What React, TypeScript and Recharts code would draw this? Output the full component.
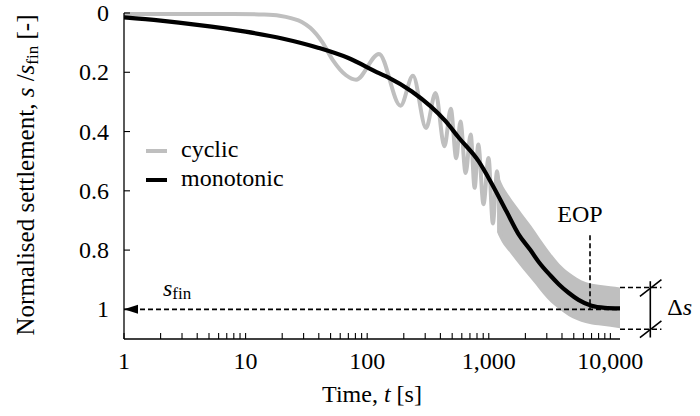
import {
  ComposedChart,
  Line,
  Area,
  XAxis,
  YAxis,
  ReferenceLine,
  ReferenceDot,
  Legend,
} from 'recharts';

const SERIF = 'Liberation Serif';
const GREY = '#bfbfbf';

// monotonic loading, time [s] vs s/s_fin
const monoTime = [1, 2, 4, 10, 20, 40, 70, 125, 150, 233, 443, 565, 824, 1055, 1400, 1750, 2200, 2575, 3200, 3760, 4530, 5470, 7000, 9000, 12000];
const monoSettle = [0.015, 0.026, 0.04, 0.063, 0.086, 0.118, 0.152, 0.203, 0.218, 0.265, 0.366, 0.42, 0.5, 0.575, 0.67, 0.745, 0.8, 0.84, 0.885, 0.915, 0.944, 0.968, 0.988, 0.995, 0.997];

const cyclicTime = [1, 8, 14, 19, 24, 29, 34, 43, 52, 67, 81, 125, 188, 238, 305, 365, 432, 487, 540, 585, 645, 710, 765, 820, 905, 995, 1080, 1170, 1250];
const cyclicSettle = [0.003, 0.003, 0.005, 0.009, 0.018, 0.03, 0.05, 0.1, 0.158, 0.21, 0.225, 0.138, 0.313, 0.212, 0.388, 0.27, 0.45, 0.323, 0.49, 0.366, 0.54, 0.41, 0.59, 0.444, 0.645, 0.489, 0.71, 0.534, 0.75];

// cyclic band where the cycles are too dense to separate
const bandTime = [1170, 1270, 1500, 1750, 2050, 2420, 2800, 3250, 3800, 4530, 5300, 6250, 8000, 10000, 12000];
const bandUpper = [0.534, 0.572, 0.622, 0.66, 0.698, 0.738, 0.776, 0.812, 0.846, 0.874, 0.893, 0.908, 0.917, 0.922, 0.926];
const bandLower = [0.74, 0.77, 0.81, 0.845, 0.88, 0.915, 0.948, 0.977, 1.0, 1.022, 1.036, 1.046, 1.054, 1.059, 1.064];

const xTicks = [1, 10, 100, 1000].flatMap((d) => [1, 2, 3, 4, 5, 6, 7, 8, 9].map((m) => m * d)).concat(10000);
const xTickLabels: Record<number, string> = { 1: '1', 10: '10', 100: '100', 1000: '1,000', 10000: '10,000' };
const yTicks = [0, 0.2, 0.4, 0.6, 0.8, 1];
const yTickLabels = ['0', '0.2', '0.4', '0.6', '0.8', '1'];

// annotations
const EOP_TIME = 6800;
const EOP_TOP = 0.75;
const DS_UPPER = 0.926;
const DS_LOWER = 1.067;
const DS_TIME = 21300;
const DS_END = 26300;
const DS_SLASH_START = 17500;

const legendItems = [
  { name: 'cyclic', color: GREY },
  { name: 'monotonic', color: '#000' },
];

const monoData = monoTime.map((t, i) => ({ t, s: monoSettle[i] }));
const cyclicData = cyclicTime.map((t, i) => ({ t, s: cyclicSettle[i] }));
const bandData = bandTime.map((t, i) => ({ t, range: [bandUpper[i], bandLower[i]] }));

const textProps = { style: { fontFamily: SERIF, fontSize: 24 }, fill: '#000' };

function BottomTick({ x, y, payload }: any) {
  const label = xTickLabels[payload.value];
  return (
    <g>
      <line x1={x} y1={y} x2={x} y2={y - 6} stroke="#000" strokeWidth={1.1} />
      {label && (
        <text x={x} y={y + 30} textAnchor="middle" {...textProps}>
          {label}
        </text>
      )}
    </g>
  );
}

function TopTick({ x, y }: any) {
  return <line x1={x} y1={y} x2={x} y2={y + 6} stroke="#000" strokeWidth={1.1} />;
}

function LeftTick({ x, y, index }: any) {
  return (
    <g>
      <line x1={x} y1={y} x2={x + 6} y2={y} stroke="#000" strokeWidth={1.1} />
      <text x={x - 15} y={y + 8} textAnchor="end" {...textProps}>
        {yTickLabels[index]}
      </text>
    </g>
  );
}

function RightTick({ x, y }: any) {
  return <line x1={x} y1={y} x2={x - 6} y2={y} stroke="#000" strokeWidth={1.1} />;
}

function YLabel({ viewBox }: any) {
  const cx = viewBox.x + 34;
  const cy = viewBox.y + viewBox.height / 2 - 1;
  return (
    <text
      transform={`translate(${cx},${cy}) rotate(-90)`}
      textAnchor="middle"
      style={{ fontFamily: SERIF, fontSize: 25 }}
      fill="#000"
    >
      Normalised settlement, <tspan fontStyle="italic">s</tspan>
      <tspan> /</tspan>
      <tspan fontStyle="italic">s</tspan>
      <tspan style={{ fontSize: 17 }} dy={4}>fin</tspan>
      <tspan dy={-4}> [-]</tspan>
    </text>
  );
}

function XLabel({ viewBox }: any) {
  return (
    <text x={viewBox.x + viewBox.width / 2} y={viewBox.y + 63} textAnchor="middle" {...textProps}>
      Time, <tspan fontStyle="italic">t</tspan> [s]
    </text>
  );
}

function SfinMarker({ cx, cy }: any) {
  return (
    <g>
      <polygon points={`${cx},${cy} ${cx + 14},${cy - 4.5} ${cx + 14},${cy + 4.5}`} fill="#000" />
      <text x={cx + 39} y={cy - 13} {...textProps}>
        <tspan fontStyle="italic">s</tspan>
        <tspan style={{ fontSize: 17 }} dy={3}>fin</tspan>
      </text>
    </g>
  );
}

function EopLabel({ viewBox }: any) {
  return (
    <text x={viewBox.x - 10} y={viewBox.y - 13} textAnchor="middle" {...textProps}>
      EOP
    </text>
  );
}

function DeltaLabel({ viewBox }: any) {
  return (
    <text x={viewBox.x + 17} y={viewBox.y + viewBox.height / 2 + 6} {...textProps}>
      Δ<tspan fontStyle="italic">s</tspan>
    </text>
  );
}

function LegendBox() {
  return (
    <svg width={170} height={62}>
      {legendItems.map((it, i) => (
        <g key={it.name}>
          <line x1={0} x2={21} y1={14 + 29 * i} y2={14 + 29 * i} stroke={it.color} strokeWidth={4} />
          <text x={35} y={19.5 + 29 * i} {...textProps}>
            {it.name}
          </text>
        </g>
      ))}
    </svg>
  );
}

const dashed = { stroke: '#000', strokeWidth: 1.6, strokeDasharray: '5 3' };

export default function App() {
  return (
    <div style={{ position: 'absolute', left: 0, top: 0, background: '#fff', fontFamily: SERIF }}>
      <ComposedChart width={700} height={416} margin={{ top: 13, right: 80, bottom: 0, left: 0 }}>
        <XAxis
          dataKey="t"
          type="number"
          scale="log"
          domain={[1, 12000]}
          allowDataOverflow
          ticks={xTicks}
          interval={0}
          tickSize={0}
          tickMargin={0}
          height={77}
          tick={<BottomTick />}
          axisLine={{ stroke: '#000', strokeWidth: 1.3 }}
          label={XLabel}
        />
        <XAxis
          xAxisId="top"
          orientation="top"
          type="number"
          scale="log"
          domain={[1, 12000]}
          allowDataOverflow
          ticks={xTicks}
          interval={0}
          tickSize={0}
          tickMargin={0}
          height={0}
          tick={<TopTick />}
          axisLine={{ stroke: '#000', strokeWidth: 1.3 }}
        />
        <YAxis
          type="number"
          reversed
          domain={[0, 1.1]}
          ticks={yTicks}
          interval={0}
          tickSize={0}
          tickMargin={0}
          width={124}
          tick={<LeftTick />}
          axisLine={{ stroke: '#000', strokeWidth: 1.3 }}
          label={YLabel}
        />
        <YAxis
          yAxisId="right"
          orientation="right"
          type="number"
          reversed
          domain={[0, 1.1]}
          ticks={yTicks}
          interval={0}
          tickSize={0}
          tickMargin={0}
          width={0}
          tick={<RightTick />}
          axisLine={{ stroke: '#000', strokeWidth: 1.3 }}
        />
        <Area
          data={bandData}
          dataKey="range"
          type="monotone"
          fill={GREY}
          fillOpacity={1}
          stroke="none"
          legendType="none"
          isAnimationActive={false}
        />
        <Line
          data={cyclicData}
          dataKey="s"
          name="cyclic"
          type="monotone"
          stroke={GREY}
          strokeWidth={4}
          dot={false}
          isAnimationActive={false}
        />
        <ReferenceLine y={1} {...dashed} />
        <ReferenceLine
          segment={[{ x: EOP_TIME, y: EOP_TOP }, { x: EOP_TIME, y: 1 }]}
          {...dashed}
          label={EopLabel}
        />
        <ReferenceLine
          segment={[{ x: 12000, y: DS_UPPER }, { x: DS_END, y: DS_UPPER }]}
          ifOverflow="visible"
          {...dashed}
        />
        <ReferenceLine
          segment={[{ x: 12000, y: DS_LOWER }, { x: DS_END, y: DS_LOWER }]}
          ifOverflow="visible"
          {...dashed}
        />
        <ReferenceLine
          segment={[{ x: DS_TIME, y: 0.905 }, { x: DS_TIME, y: 1.095 }]}
          ifOverflow="visible"
          stroke="#000"
          strokeWidth={1.6}
          label={DeltaLabel}
        />
        <ReferenceLine
          segment={[{ x: DS_SLASH_START, y: DS_UPPER + 0.03 }, { x: DS_END, y: DS_UPPER - 0.026 }]}
          ifOverflow="visible"
          stroke="#000"
          strokeWidth={1.6}
        />
        <ReferenceLine
          segment={[{ x: DS_SLASH_START, y: DS_LOWER + 0.028 }, { x: DS_END, y: DS_LOWER - 0.028 }]}
          ifOverflow="visible"
          stroke="#000"
          strokeWidth={1.6}
        />
        <ReferenceDot x={1} y={1} r={0} ifOverflow="visible" shape={SfinMarker} />
        <Line
          data={monoData}
          dataKey="s"
          name="monotonic"
          type="monotone"
          stroke="#000"
          strokeWidth={4.2}
          dot={false}
          isAnimationActive={false}
        />
        <Legend
          content={<LegendBox />}
          layout="vertical"
          align="center"
          verticalAlign="middle"
          wrapperStyle={{ left: 146, top: 137, width: 170 }}
        />
      </ComposedChart>
    </div>
  );
}
